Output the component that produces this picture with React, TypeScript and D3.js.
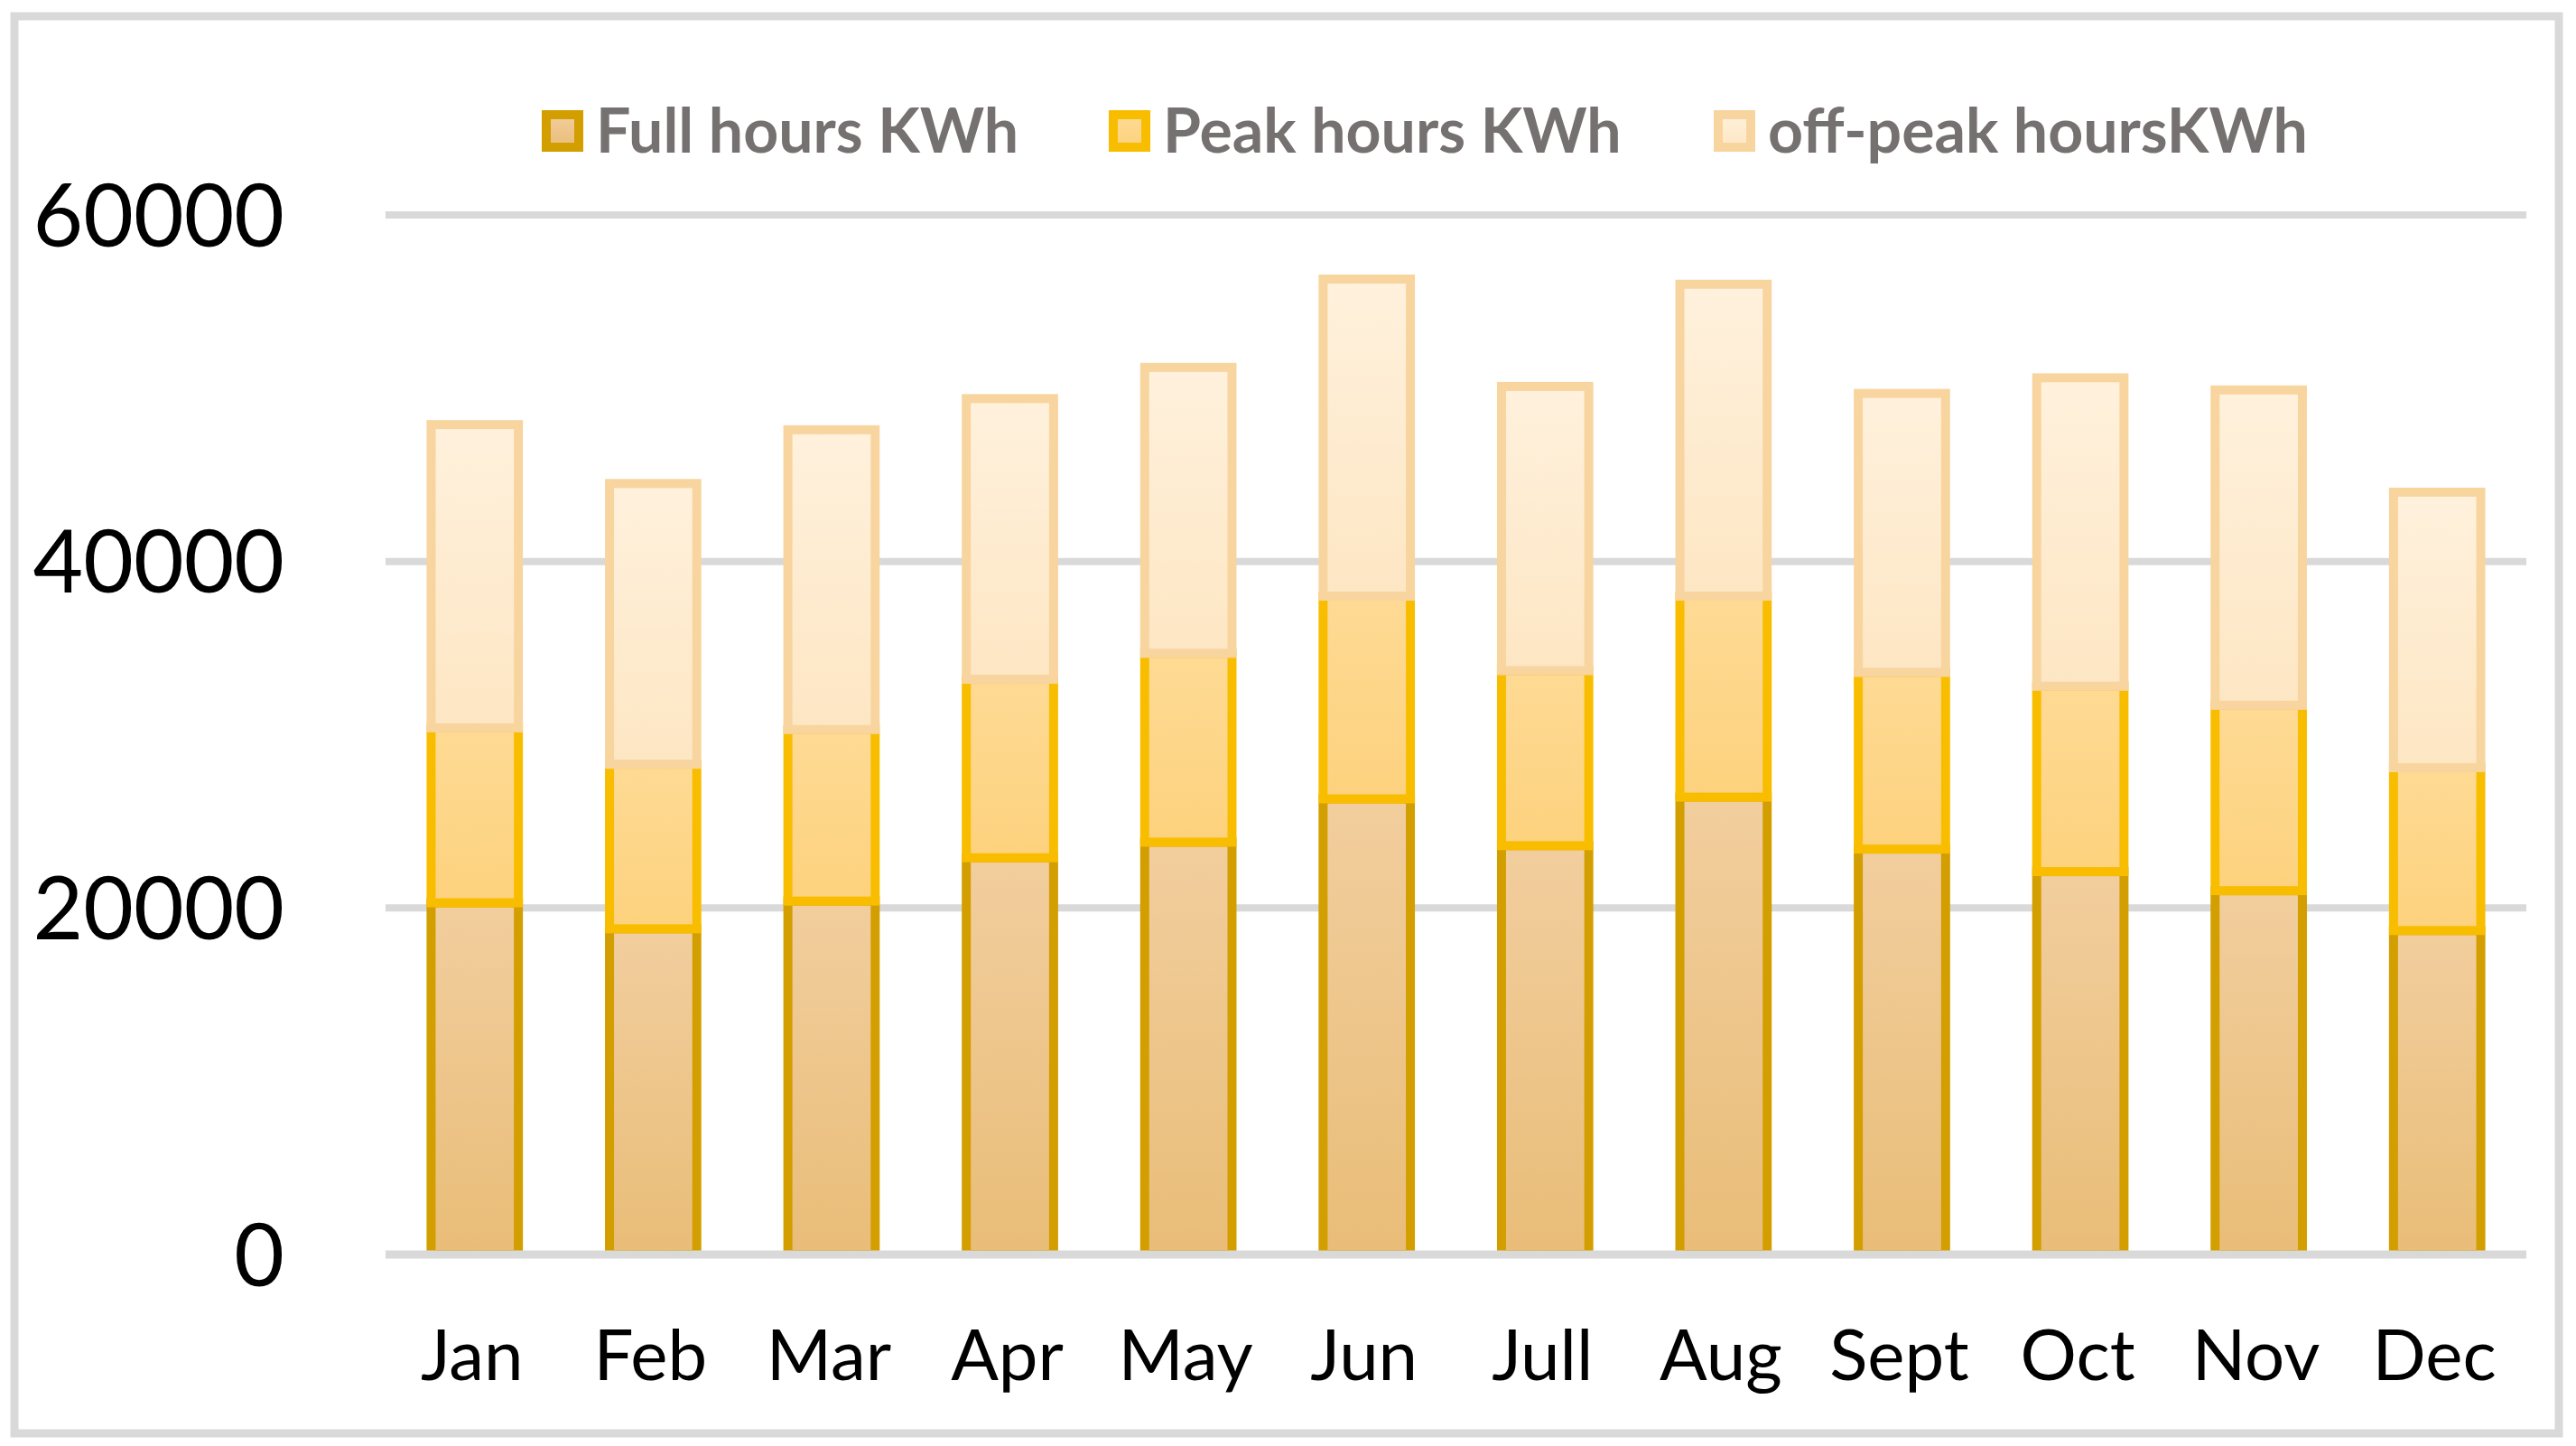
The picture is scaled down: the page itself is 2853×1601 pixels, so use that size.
import React from "react";
import * as d3 from "d3";

const months = ["Jan", "Feb", "Mar", "Apr", "May", "Jun", "Jull", "Aug", "Sept", "Oct", "Nov", "Dec"];
const fullHours = [20300, 18800, 20400, 22900, 23800, 26300, 23600, 26400, 23400, 22100, 21000, 18700];
const peakHours = [10100, 9500, 9900, 10300, 10900, 11700, 10100, 11600, 10200, 10700, 10700, 9400];
const offPeakHours = [17500, 16200, 17300, 16200, 16500, 18300, 16400, 18000, 16100, 17800, 18200, 15900];
const yTicks = [0, 20000, 40000, 60000];
const seriesNames = ["Full hours KWh", "Peak hours KWh", "off-peak hoursKWh"];

const W = 2853;
const H = 1601;
const plot = { left: 427, right: 2798, top: 238, bottom: 1389 };

const styles = [
  { stroke: "#D29E00", top: "#F2CE9E", bottom: "#E9BD78", id: "gFull" },
  { stroke: "#F9BD00", top: "#FEDA94", bottom: "#FDD27E", id: "gPeak" },
  { stroke: "#F8D59F", top: "#FFF1DD", bottom: "#FDE6C3", id: "gOff" },
];

export default function App() {
  const x = d3.scaleBand<string>().domain(months).range([plot.left, plot.right]).paddingInner(0.46).paddingOuter(0.23);
  const y = d3.scaleLinear().domain([0, 60000]).range([plot.bottom, plot.top]);

  const rows = months.map((m, i) => ({ m, full: fullHours[i], peak: peakHours[i], off: offPeakHours[i] }));
  const stack = d3.stack<any>().keys(["full", "peak", "off"])(rows);

  const font = "Lato, 'Open Sans', sans-serif";
  const legendX = [600, 1228, 1898];

  return (
    <svg width={W} height={H} style={{ position: "absolute", left: 0, top: 0, background: "#fff" }}>
      <defs>
        {styles.map((s) => (
          <linearGradient key={s.id} id={s.id} x1="0" y1="0" x2="0" y2="1">
            <stop offset="0" stopColor={s.top} />
            <stop offset="1" stopColor={s.bottom} />
          </linearGradient>
        ))}
        <clipPath id="clipPlot">
          <rect x={0} y={0} width={W} height={plot.bottom} />
        </clipPath>
      </defs>
      <rect x={0} y={0} width={W} height={H} fill="#fff" />
      <rect x={16} y={18} width={2818} height={1569} fill="#fff" stroke="#D9D9D9" strokeWidth={9} />

      {yTicks.filter((t) => t > 0).map((t) => (
        <line key={t} x1={plot.left} x2={plot.right} y1={y(t)} y2={y(t)} stroke="#D9D9D9" strokeWidth={8} />
      ))}

      <g clipPath="url(#clipPlot)">
        {stack.map((layer, li) =>
          layer.map((d, i) => {
            const bx = x(months[i])!;
            const bw = x.bandwidth();
            const y0 = y(d[0]);
            const y1 = y(d[1]);
            return (
              <rect
                key={li + "-" + i}
                x={bx + 5}
                y={y1}
                width={bw - 10}
                height={y0 - y1}
                fill={`url(#${styles[li].id})`}
                stroke={styles[li].stroke}
                strokeWidth={10}
              />
            );
          })
        )}
      </g>

      <line x1={plot.left} x2={plot.right} y1={y(0)} y2={y(0)} stroke="#D9D9D9" strokeWidth={9} />

      {yTicks.map((t) => (
        <text key={t} x={315} y={y(t)} dy="0.36em" textAnchor="end" fontFamily={font} fontSize={96} fill="#000">
          {t}
        </text>
      ))}

      {months.map((m) => (
        <text key={m} x={x(m)! + x.bandwidth() / 2 - 3} y={1528} textAnchor="middle" fontFamily={font} fontSize={78} fill="#000">
          {m}
        </text>
      ))}

      {seriesNames.map((n, i) => (
        <g key={n}>
          <rect x={legendX[i] + 5} y={127} width={36} height={36} fill={`url(#${styles[i].id})`} stroke={styles[i].stroke} strokeWidth={10} />
          <text x={legendX[i] + 60} y={145} dy="0.36em" fontFamily={font} fontWeight={700} fontSize={68} fill="#767171">
            {n}
          </text>
        </g>
      ))}
    </svg>
  );
}
